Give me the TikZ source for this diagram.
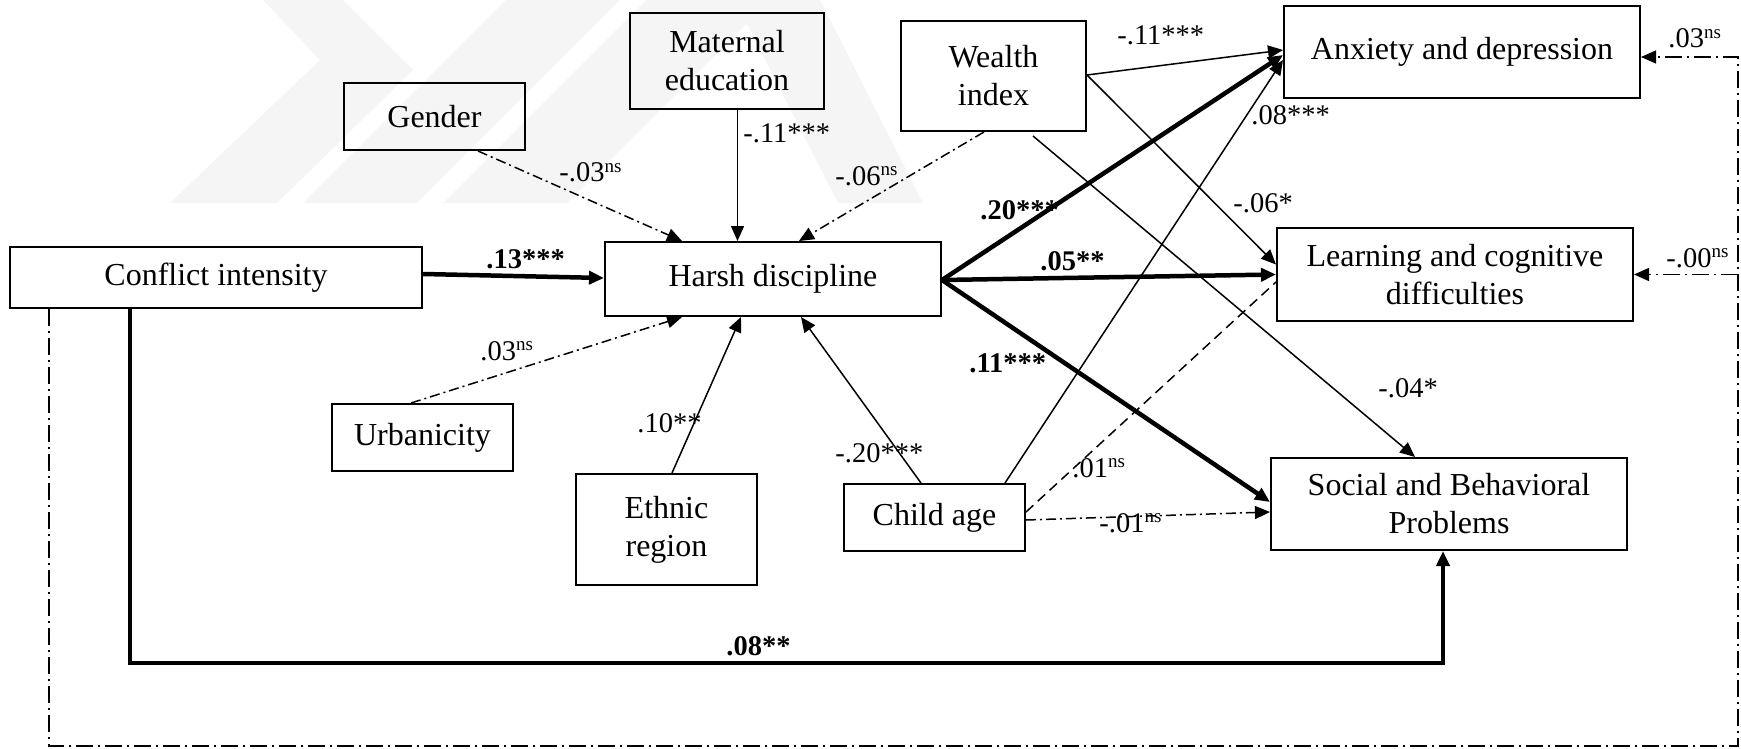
\documentclass[tikz,border=0pt]{standalone}
\usepackage{fontspec}
\setmainfont{Liberation Serif}
\usetikzlibrary{arrows.meta,calc}
\newcommand\nsup{\raisebox{4.8pt}{\fontsize{9.5}{9.5}\selectfont ns}}
\begin{document}
\begin{tikzpicture}[x=0.5pt,y=-0.5pt,
  box/.style={draw, line width=1pt, inner sep=0pt, align=center, font=\fontsize{16}{19}\selectfont},
  lab/.style={inner sep=0pt, anchor=base west, font=\fontsize{14.25}{16}\selectfont},
  blab/.style={inner sep=0pt, anchor=base west, font=\fontsize{14.25}{16}\selectfont\bfseries},
  thinln/.style={line width=0.75pt},
  thickln/.style={line width=2.25pt},
  dd/.style={dash pattern=on 5pt off 2pt on 1pt off 2pt},
  ddo/.style={dash pattern=on 8.5pt off 2.5pt on 1pt off 2.5pt},
  dsh/.style={dash pattern=on 5pt off 3pt},
  arr/.style={-{Triangle[length=7.5pt,width=6.5pt]}},
  wm/.style={fill=black!4, draw=none}
]
\useasboundingbox (0,0) rectangle (1741,749);
% watermark
\fill[wm] (263,0) -- (343,0) -- (413,70) -- (277,203) -- (170,203) -- (320,60) -- cycle;
\fill[wm] (303,203) -- (417,203) -- (620,0) -- (506,0) -- cycle;
\fill[wm] (443,203) -- (567,203) -- (770,0) -- (646,0) -- cycle;
\fill[wm] (735,0) -- (820,0) -- (923,203) -- (838,203) -- cycle;

% nodes
\node[box, minimum width=90.5pt, minimum height=33.5pt] (gender) at (434.5,116.5) {Gender};
\node[box, minimum width=97pt, minimum height=48pt] (matedu) at (727,61) {Maternal\\education};
\node[box, minimum width=92.5pt, minimum height=55pt] (wealth) at (993.5,76) {Wealth\\index};
\node[box, minimum width=178pt, minimum height=46pt] (anx) at (1462,52) {Anxiety and depression};
\node[box, minimum width=178pt, minimum height=46.5pt] (learn) at (1455,274.5) {Learning and cognitive\\difficulties};
\node[box, minimum width=206pt, minimum height=30.5pt] (conflict) at (216,277.5) {Conflict intensity};
\node[box, minimum width=168pt, minimum height=37pt] (harsh) at (773,279) {Harsh discipline};
\node[box, minimum width=90.5pt, minimum height=33.5pt] (urban) at (422.5,437.5) {Urbanicity};
\node[box, minimum width=90.5pt, minimum height=55.5pt] (ethnic) at (666.5,529.5) {Ethnic\\region};
\node[box, minimum width=90.5pt, minimum height=33.5pt] (child) at (934.5,517.5) {Child age};
\node[box, minimum width=178pt, minimum height=46pt] (social) at (1449,504) {Social and Behavioral\\Problems};

% connectors into harsh discipline
\draw[thickln,arr] ([yshift=1.75pt]conflict.east) -- ([yshift=0.5pt]harsh.west);
\draw[thinln,arr] ([xshift=5.25pt]matedu.south) -- ([xshift=5.25pt]matedu.south |- harsh.north);
\draw[thinln,dd,arr] ([xshift=21.75pt]gender.south) -- ([xshift=-45.5pt]harsh.north);
\draw[thinln,dd,arr] ([xshift=-4.75pt]wealth.south) -- ([xshift=13pt]harsh.north);
\draw[thinln,dd,arr] ([xshift=-5.75pt]urban.north) -- ([xshift=-45.5pt]harsh.south);
\draw[thinln,arr] ([xshift=2.75pt]ethnic.north) -- ([xshift=-16pt]harsh.south);
\draw[thinln,arr] ([xshift=-6.75pt]child.north) -- ([xshift=14pt]harsh.south);

% harsh discipline to outcomes
\draw[thickln,arr] ([yshift=-0.5pt]harsh.east) -- ([yshift=-1.5pt]anx.west);
\draw[thickln,arr] ([yshift=-0.5pt]harsh.east) -- ([yshift=0pt]learn.west);
\draw[thickln,arr] ([yshift=-0.5pt]harsh.east) -- ([yshift=1pt]social.west);

% wealth to outcomes
\draw[thinln,arr] ([yshift=0.5pt]wealth.east) -- ([yshift=1pt]anx.west);
\draw[thinln,arr] ([yshift=0.5pt]wealth.east) -- ([yshift=5pt]learn.west);
\draw[thinln,arr] ([xshift=19.75pt,yshift=-2pt]wealth.south) -- ([xshift=-17pt]social.north);

% child age to outcomes
\draw[thinln,arr] ([xshift=35.25pt]child.north) -- ([yshift=-4pt]anx.west);
\draw[thinln,dsh] ([yshift=2.75pt]child.east) -- ([yshift=-3.75pt]learn.west);
\draw[thinln,dd,arr] ([yshift=-1.25pt]child.east) -- ([yshift=-4pt]social.west);

% conflict direct paths
\draw[thickln,arr] ([xshift=-43pt]conflict.south) -- ++(0,354) -| ([xshift=-3pt]social.south);
\coordinate (br) at (1738,746);
\draw[thinln,ddo,arr] ([xshift=-83.5pt]conflict.south) |- (br) |- ([yshift=-2.5pt]anx.east);
\draw[thinln,ddo,arr] (br |- learn.east) -- (learn.east);

% labels
\node[blab] (l13) at (486,268) {.13***};
\node[lab] (l11m) at (743,143) {-.11***};
\node[lab] (l03g) at (559,182) {-.03\nsup};
\node[lab] (l06w) at (835,185) {-.06\nsup};
\node[lab] (l03u) at (480,360) {.03\nsup};
\node[lab] (l10) at (637,432) {.10**};
\node[lab] (l20c) at (835,462) {-.20***};
\node[blab] (l20) at (980,220) {.20***};
\node[blab] (l05) at (1040,270) {.05**};
\node[blab] (l11h) at (969,372) {.11***};
\node[lab] (l11w) at (1117,45) {-.11***};
\node[lab] (l06) at (1233,213) {-.06*};
\node[lab] (l04) at (1378,397) {-.04*};
\node[lab] (l08) at (1251,125) {.08***};
\node[lab] (l01c) at (1072,477) {.01\nsup};
\node[lab] (l01s) at (1099,532) {-.01\nsup};
\node[blab] (l08b) at (726,655) {.08**};
\node[lab] (l03a) at (1668,48) {.03\nsup};
\node[lab] (l00) at (1666,267) {-.00\nsup};
\end{tikzpicture}
\end{document}
